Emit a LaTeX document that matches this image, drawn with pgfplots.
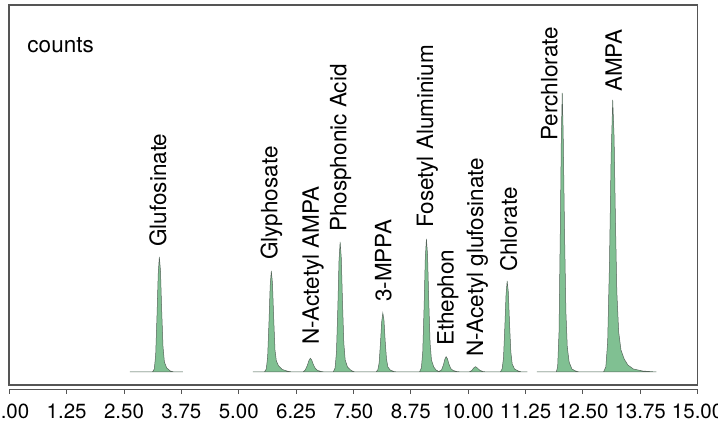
\documentclass[border=0pt]{standalone}
\usepackage{pgfplots}
\pgfplotsset{compat=1.18}
\usepackage{fontspec}
\setmainfont{TeX Gyre Heros}
\definecolor{peakfill}{RGB}{128,192,146}
\definecolor{peakline}{RGB}{85,100,90}
\definecolor{framec}{RGB}{85,85,85}
\begin{document}
\begin{tikzpicture}
\begin{axis}[name=main, scale only axis, width=688.3pt, height=380pt,
  xmin=0, xmax=15, ymin=-13, ymax=367, xtick=\empty, ytick=\empty,
  axis line style={framec, line width=1.6pt}, clip=false]
% segment 1
\addplot[fill=peakfill, draw=peakline, line width=0.5pt] coordinates {
(2.63,0) (3.12,0) (3.16,3) (3.19,17) (3.22,58) (3.245,98) (3.27,115) (3.295,101) (3.32,63) (3.35,25) (3.38,10) (3.43,4) (3.51,1) (3.59,0) (3.78,0)
} \closedcycle;
% segment 2
\addplot[fill=peakfill, draw=peakline, line width=0.5pt] coordinates {
(5.31,0) (5.56,0) (5.60,3) (5.63,15) (5.66,51) (5.685,86) (5.71,101) (5.735,89) (5.76,56) (5.79,22) (5.82,11) (5.87,6) (5.95,2.5) (6.05,1) (6.16,0)
(6.40,0) (6.45,2) (6.49,6) (6.53,11.5) (6.56,13.7) (6.59,12) (6.63,7) (6.67,3.5) (6.72,1.5) (6.80,0.5) (6.88,0)
(7.06,0) (7.10,4) (7.13,20) (7.16,65) (7.185,111) (7.21,130) (7.235,114) (7.26,72) (7.29,29) (7.32,12) (7.37,5) (7.45,1.5) (7.53,0)
(7.99,0) (8.03,2) (8.06,9) (8.09,30) (8.115,50) (8.14,59) (8.165,52) (8.19,32) (8.22,13) (8.25,5) (8.30,2) (8.38,0.5) (8.46,0)
(8.94,0) (8.98,4) (9.01,20) (9.04,66) (9.065,113) (9.09,133) (9.115,117) (9.14,73) (9.17,29) (9.20,12) (9.25,5) (9.30,2)
(9.36,0.5) (9.42,2) (9.46,7) (9.49,12.5) (9.52,15.3) (9.55,13) (9.58,8) (9.62,3.5) (9.67,1.5) (9.75,0.5) (9.85,0)
(10.02,0) (10.08,1.5) (10.12,4) (10.16,5.3) (10.20,4) (10.25,1.8) (10.32,0.5) (10.40,0)
(10.70,0) (10.74,3) (10.77,14) (10.80,46) (10.825,77) (10.85,91) (10.875,80) (10.90,50) (10.93,20) (10.96,8) (11.01,3) (11.09,1) (11.17,0) (11.29,0)
} \closedcycle;
% segment 3
\addplot[fill=peakfill, draw=peakline, line width=0.5pt] coordinates {
(11.50,0) (11.92,0) (11.95,5) (11.98,40) (12.01,150) (12.03,235) (12.05,279) (12.07,240) (12.10,140) (12.13,60) (12.16,25) (12.20,10) (12.26,3) (12.34,1) (12.42,0)
(12.95,0) (13.00,5) (13.04,30) (13.08,110) (13.115,215) (13.15,272) (13.18,235) (13.21,150) (13.24,80) (13.28,40) (13.33,22) (13.40,13) (13.48,7) (13.60,3) (13.80,1) (14.10,0)
} \closedcycle;
\begin{scope}[every node/.style={rotate=90, anchor=west, inner sep=0pt, font=\fontsize{22.5}{27}\selectfont}]
\node at (axis cs:3.24,125) {Glufosinate};
\node at (axis cs:5.71,112) {Glyphosate};
\node at (axis cs:6.62,27) {N-Actetyl AMPA};
\node at (axis cs:7.22,140) {Phosphonic Acid};
\node at (axis cs:8.15,70) {3-MPPA};
\node at (axis cs:9.11,144) {Fosetyl Aluminium};
\node at (axis cs:9.56,26) {Ethephon};
\node at (axis cs:10.20,15) {N-Acetyl glufosinate};
\node at (axis cs:10.88,100) {Chlorate};
\node at (axis cs:11.77,231) {Perchlorate};
\node at (axis cs:13.17,280) {AMPA};
\end{scope}
\node[anchor=base west, inner sep=0pt, font=\fontsize{22.5}{27}\selectfont] at ([xshift=18pt,yshift=-48pt]rel axis cs:0,1) {counts};
\end{axis}
\begin{axis}[scale only axis, width=688.3pt, height=380pt,
  xmin=0, xmax=15, ymin=-13, ymax=367, yshift=-4.5pt,
  axis x line*=bottom, axis y line=none,
  x axis line style={-, framec, line width=1pt},
  xtick={0,1.25,2.5,3.75,5,6.25,7.5,8.75,10,11.25,12.5,13.75,15},
  tick align=outside, major tick length=4.5pt,
  xtick style={framec, line width=1pt},
  /pgf/number format/fixed, /pgf/number format/fixed zerofill,
  /pgf/number format/precision=2, /pgf/number format/assume math mode=true,
  xticklabel style={font=\fontsize{20.5}{24}\selectfont, text=black, yshift=-6pt}]
\end{axis}
\pgfresetboundingbox
\path[use as bounding box] ([xshift=-9.3pt,yshift=-42pt]main.south west) rectangle ([xshift=20.4pt,yshift=5pt]main.north east);
\end{tikzpicture}
\end{document}
